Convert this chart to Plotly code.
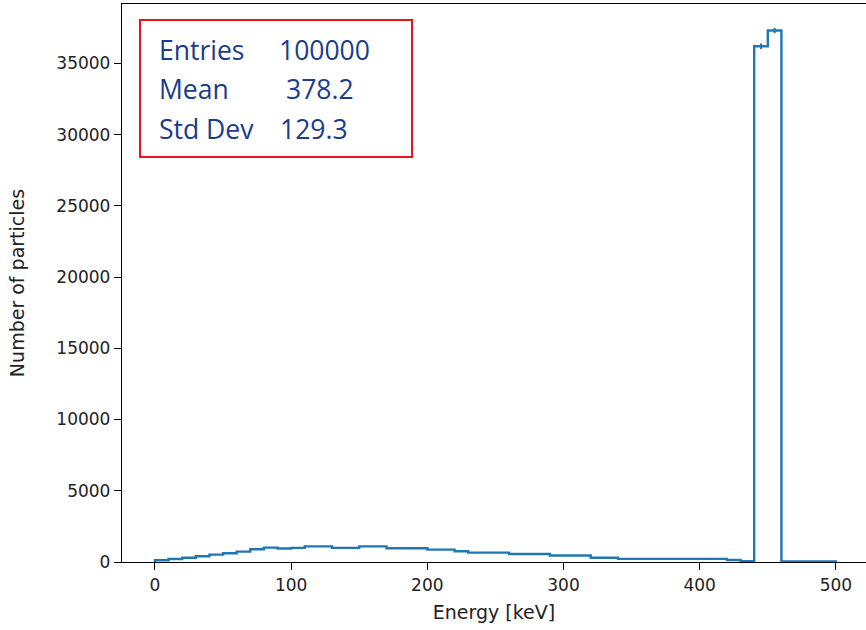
import numpy as np
import plotly.graph_objects as go

# ---- data ----
bin_edges = list(range(0, 510, 10))  # 0..500 keV, 10 keV bins
counts = [120, 210, 300, 400, 520, 610, 730, 890, 1010, 950,
          990, 1100, 1100, 990, 990, 1100, 1100, 960, 960, 960,
          870, 870, 750, 660, 660, 660, 565, 565, 565, 460,
          460, 460, 300, 300, 220, 220, 220, 220, 220, 220,
          220, 220, 140, 50, 36200, 37300, 30, 30, 30, 30]
stats_labels = ["Entries", "Mean", "Std Dev"]
stats_values = ["100000", "378.2", "129.3"]
x_ticks = [0, 100, 200, 300, 400, 500]
y_ticks = [0, 5000, 10000, 15000, 20000, 25000, 30000, 35000]

W, H = 866, 630
L, R, T, B = 122, 0, 4, 68
pw, ph = W - L - R, H - T - B

def px(xp):
    return (xp - L) / pw

def py(yp):
    return (H - B - yp) / ph

color = "#1f77b4"
step_x = [bin_edges[0]] + bin_edges
step_y = [0] + counts + [0]

centers = [(a + b) / 2 for a, b in zip(bin_edges[:-1], bin_edges[1:])]
errs = [float(np.sqrt(c)) for c in counts]

fig = go.Figure()
fig.add_trace(go.Scatter(x=step_x, y=step_y, mode="lines",
                         line=dict(color=color, width=2.4, shape="hv"),
                         showlegend=False, hoverinfo="skip"))
fig.add_trace(go.Scatter(x=centers, y=counts, mode="markers",
                         marker=dict(size=0.1, color=color, opacity=0),
                         error_y=dict(type="data", array=errs, color=color,
                                      thickness=2, width=0),
                         showlegend=False, hoverinfo="skip"))

font = dict(family="DejaVu Sans", size=17, color="#222222")
tfont = dict(family="DejaVu Sans", size=19, color="#222222")
fig.update_xaxes(range=[-24.2, 522.1], tickvals=x_ticks, ticks="outside",
                 ticklen=7, tickwidth=1.3, tickcolor="black", showline=True,
                 linecolor="black", linewidth=1.3, mirror=True, showgrid=False,
                 zeroline=False, tickfont=font,
                 title=dict(text="Energy [keV]", font=tfont, standoff=12))
fig.update_yaxes(range=[0, 39165], tickvals=y_ticks, tickformat="d",
                 ticks="outside", ticklen=7, tickwidth=1.3, tickcolor="black",
                 showline=True, linecolor="black", linewidth=1.3, mirror=True,
                 showgrid=False, zeroline=False, tickfont=font,
                 title=dict(text="Number of particles", font=tfont, standoff=26))

# stats box
fig.add_shape(type="rect", xref="paper", yref="paper",
              x0=px(140), x1=px(412), y0=py(157), y1=py(20),
              line=dict(color="#e8161c", width=2), fillcolor="white")
box_font = dict(family="Open Sans", size=26.5, color="#1b3b8b")
rows_y = [50, 89, 129]
val_x = [277, 284, 278]
for lab, val, yy, vx in zip(stats_labels, stats_values, rows_y, val_x):
    fig.add_annotation(x=px(157), y=py(yy), xref="paper", yref="paper",
                       text=lab, showarrow=False, xanchor="left",
                       yanchor="middle", font=box_font)
    fig.add_annotation(x=px(vx), y=py(yy), xref="paper", yref="paper",
                       text=val, showarrow=False, xanchor="left",
                       yanchor="middle", font=box_font)

fig.update_layout(width=W, height=H, margin=dict(l=L, r=R, t=T, b=B),
                  plot_bgcolor="white", paper_bgcolor="white")
fig.write_html("out.html")
